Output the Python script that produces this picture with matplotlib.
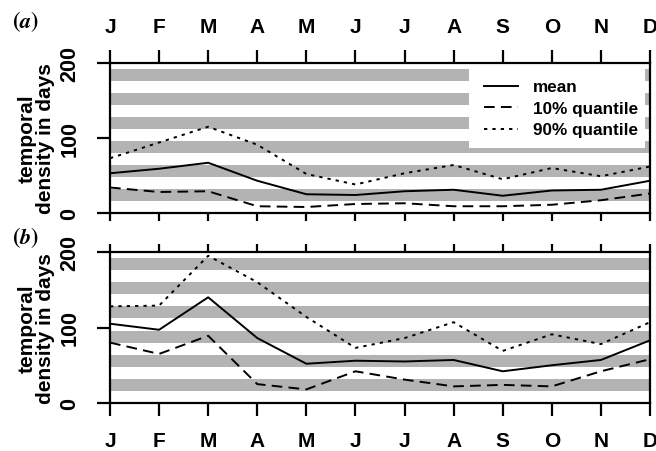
import matplotlib
matplotlib.use("Agg")
import matplotlib.pyplot as plt
from matplotlib.patches import Rectangle

# month initials along the x axis
months = ["J", "F", "M", "A", "M", "J", "J", "A", "S", "O", "N", "D"]
month_idx = list(range(1, 13))

# grey background stripes (days)
band_lo = [16, 48, 80, 112, 144, 176]
band_hi = [32, 64, 96, 128, 160, 192]

# (a) temporal density
a_mean = [53, 59, 67, 43, 25, 24, 29, 31, 23, 30, 31, 43]
a_q10 = [34, 28, 29, 9, 8, 12, 13, 9, 9, 11, 17, 26]
a_q90 = [73, 94, 115, 91, 52, 38, 53, 64, 45, 60, 49, 62]

# (b) temporal density
b_mean = [105, 97, 140, 86, 52, 56, 55, 57, 42, 50, 57, 83]
b_q10 = [80, 65, 89, 25, 18, 42, 31, 22, 24, 22, 42, 58]
b_q90 = [128, 129, 195, 160, 114, 73, 86, 107, 69, 91, 78, 107]

plt.rcParams['font.family'] = ['Liberation Sans', 'DejaVu Sans']
plt.rcParams['font.weight'] = 'bold'
plt.rcParams['mathtext.fontset'] = 'stix'

W, H = 656, 452
fig = plt.figure(figsize=(W / 100, H / 100), dpi=100)

def px_axes(x0, y0, x1, y1):
    return fig.add_axes([x0 / W, 1 - y1 / H, (x1 - x0) / W, (y1 - y0) / H])

ax_a = px_axes(110, 64, 650, 214)
ax_b = px_axes(110, 253, 650, 404)

lw_line = 1.4
styles = {
    'mean': dict(linestyle='-'),
    'q10': dict(linestyle=(0, (5.5, 3.2))),
    'q90': dict(linestyle=(0, (1.7, 2.6))),
}

LONG, SHORT = 9.5, 6

def draw_panel(ax, mean, q10, q90, top_labels):
    for lo, hi in zip(band_lo, band_hi):
        ax.axhspan(lo, hi, color='#b3b3b3', lw=0, zorder=0)
    ax.plot(month_idx, mean, color='black', lw=lw_line, label='mean', zorder=3, **styles['mean'])
    ax.plot(month_idx, q10, color='black', lw=lw_line, label='10% quantile', zorder=3, **styles['q10'])
    ax.plot(month_idx, q90, color='black', lw=lw_line, label='90% quantile', zorder=3, **styles['q90'])
    ax.set_xlim(1, 12)
    ax.set_ylim(0, 200)
    for s in ax.spines.values():
        s.set_linewidth(1.6)
    ax.set_xticks(month_idx)
    ax.set_xticklabels(months, fontsize=15, fontweight='bold')
    ax.set_yticks([0, 100, 200])
    ax.set_yticklabels(['0', '100', '200'], fontsize=15.5, fontweight='bold',
                       rotation=90, va='center')
    ax.tick_params(axis='y', direction='out', length=LONG, width=1.6, pad=12)
    if top_labels:
        ax.tick_params(axis='x', top=True, bottom=True, labeltop=True, labelbottom=False,
                       direction='out', width=1.6, length=LONG, pad=10)
    else:
        ax.tick_params(axis='x', top=True, bottom=True, labeltop=False, labelbottom=True,
                       direction='out', width=1.6, length=LONG, pad=11)
    ax.set_ylabel('temporal\ndensity in days', fontsize=15, fontweight='bold',
                  linespacing=0.95, labelpad=3)

draw_panel(ax_a, a_mean, a_q10, a_q90, top_labels=True)
draw_panel(ax_b, b_mean, b_q10, b_q90, top_labels=False)

# shorter ticks on the side without labels
for t in ax_a.xaxis.get_major_ticks():
    t.tick1line.set_markersize(SHORT)
for t in ax_b.xaxis.get_major_ticks():
    t.tick2line.set_markersize(SHORT)

# white box behind the legend
ax_a.add_patch(Rectangle((0.665, 0.433), 0.326, 0.56, transform=ax_a.transAxes,
                         facecolor='white', edgecolor='none', zorder=1))
ax_a.legend(loc='upper left', bbox_to_anchor=(0.692, 0.89), frameon=False,
            prop={'weight': 'bold', 'size': 12.3},
            handlelength=2.0, handletextpad=0.9, labelspacing=0.38, borderpad=0,
            borderaxespad=0)

fig.text(12 / W, 1 - 22 / H, r'$(a)$', fontsize=16, fontweight='normal', va='center', ha='left')
fig.text(12 / W, 1 - 238 / H, r'$(b)$', fontsize=16, fontweight='normal', va='center', ha='left')

fig.savefig('out.png', dpi=100)
